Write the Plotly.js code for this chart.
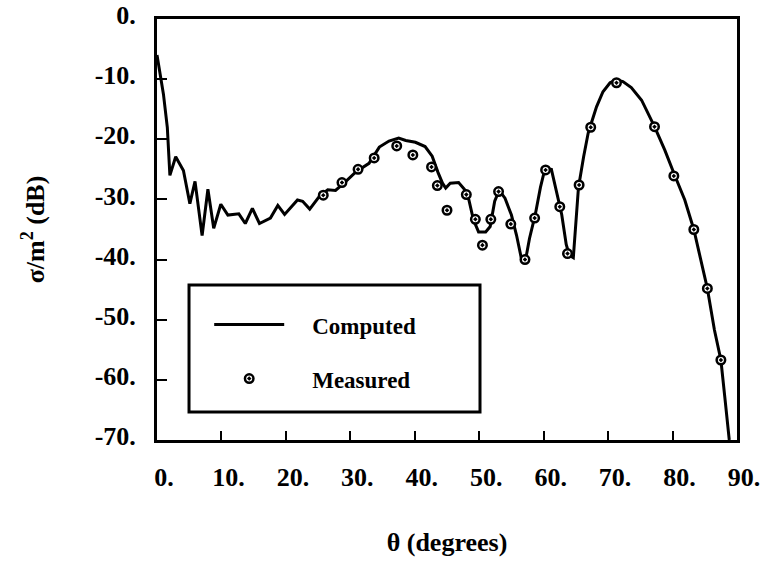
<!DOCTYPE html>
<html><head><meta charset="utf-8">
<script src="https://cdn.plot.ly/plotly-3.0.1.min.js"></script>
<style>html,body{margin:0;padding:0;background:#fff}</style>
</head><body><div id="chart" style="width:769px;height:568px"></div>
<script>
// Computed RCS curve (theta in degrees, sigma/m^2 in dB)
const computedTheta = [0.0, 1.0, 1.6, 2.0, 2.9, 4.1, 5.1, 5.9, 7.0, 7.9, 8.8, 9.9, 11.0, 12.7, 13.7, 14.8, 15.9, 17.6, 18.75, 19.8, 21.8, 22.6, 23.7, 25.2, 26.5, 27.7, 29.1, 30.9, 32.9, 34.5, 36.0, 37.5, 38.6, 40.1, 41.6, 42.7, 43.6, 44.3, 44.8, 45.5, 46.8, 47.7, 48.4, 49.1, 49.9, 51.0, 51.7, 52.4, 53.1, 54.0, 55.0, 55.8, 56.5, 57.2, 57.8, 58.7, 59.5, 60.2, 61.2, 62.0, 62.8, 63.5, 64.0, 64.6, 65.0, 65.4, 66.2, 66.9, 67.4, 68.2, 69.2, 70.3, 71.3, 72.3, 73.6, 75.2, 77.2, 78.8, 80.3, 81.9, 83.3, 84.4, 85.4, 86.5, 87.5, 88.1, 88.8];
const computedRCS = [-6.0, -12.5, -18.0, -26.0, -22.9, -25.2, -30.7, -27.0, -36.0, -28.3, -34.8, -30.8, -32.6, -32.4, -34.0, -31.5, -34.0, -33.1, -31.0, -32.5, -30.1, -30.3, -31.6, -29.5, -28.4, -28.5, -27.2, -25.4, -24.0, -21.3, -20.3, -19.8, -20.2, -20.5, -21.2, -22.8, -25.5, -27.3, -28.1, -27.3, -27.2, -28.3, -30.1, -33.4, -35.4, -35.4, -34.5, -30.3, -28.5, -29.8, -32.6, -36.0, -39.6, -40.0, -36.5, -32.5, -28.0, -24.9, -25.0, -28.5, -32.5, -37.5, -39.3, -39.7, -34.0, -28.0, -22.9, -19.0, -17.3, -14.6, -12.1, -10.6, -10.1, -10.4, -11.4, -13.5, -17.9, -21.8, -25.9, -30.1, -35.0, -40.1, -44.8, -51.7, -56.7, -62.8, -70.0];
// Measured RCS points
const measuredTheta = [25.8, 28.7, 31.2, 33.7, 37.2, 39.7, 42.6, 43.5, 45.0, 48.0, 49.4, 50.5, 51.8, 53.0, 54.9, 57.1, 58.6, 60.3, 62.5, 63.7, 65.5, 67.3, 71.3, 77.2, 80.2, 83.3, 85.4, 87.5];
const measuredRCS = [-29.3, -27.2, -25.0, -23.1, -21.1, -22.6, -24.6, -27.7, -31.8, -29.2, -33.3, -37.6, -33.3, -28.7, -34.1, -40.0, -33.1, -25.1, -31.2, -39.0, -27.6, -18.0, -10.6, -17.9, -26.1, -35.0, -44.8, -56.7];
// Tick labels
const xTickVals = [0, 10, 20, 30, 40, 50, 60, 70, 80, 90];
const xTickText = ["0.", "10.", "20.", "30.", "40.", "50.", "60.", "70.", "80.", "90."];
const yTickVals = [0, -10, -20, -30, -40, -50, -60, -70];
const yTickText = ["0.", "-10.", "-20.", "-30.", "-40.", "-50.", "-60.", "-70."];
const seriesNames = ["Computed", "Measured"];

const font = {family: "Liberation Serif", size: 26, color: "#000", weight: "bold"};
const pad = "\u00a0\u00a0\u00a0\u00a0";

const traces = [
  {x: computedTheta, y: computedRCS, type: "scatter", mode: "lines", name: pad + seriesNames[0],
   legendgroup: "a", line: {color: "#000", width: 3}},
  {x: measuredTheta, y: measuredRCS, type: "scatter", mode: "markers", name: pad + seriesNames[1],
   legendgroup: "b",
   marker: {symbol: "circle-dot", size: 8.5, color: "#fff", line: {color: "#000", width: 2.5}}}
];

const layout = {
  width: 769, height: 568,
  margin: {l: 157, r: 32, t: 19, b: 128},
  paper_bgcolor: "#fff", plot_bgcolor: "#fff",
  font: font,
  showlegend: true,
  legend: {
    x: 0.09, y: 0.325, xanchor: "left", yanchor: "top",
    bgcolor: "rgba(0,0,0,0)", borderwidth: 0,
    font: {family: "Liberation Serif", size: 23, color: "#000", weight: "bold"},
    itemwidth: 70, tracegroupgap: 21, traceorder: "grouped"
  },
  xaxis: {
    range: [0, 90], tickmode: "array", tickvals: xTickVals, ticktext: xTickText,
    ticks: "inside", ticklen: 9, tickwidth: 2, tickcolor: "#000",
    showline: true, linewidth: 3, linecolor: "#000", mirror: true,
    showgrid: false, zeroline: false, tickfont: font,
    ticklabelstandoff: 12, ticklabelshift: 7,
    title: {text: "θ (degrees)", font: font, standoff: 42}
  },
  yaxis: {
    range: [-70, 0], tickmode: "array", tickvals: yTickVals, ticktext: yTickText,
    ticks: "inside", ticklen: 10, tickwidth: 2, tickcolor: "#000",
    showline: true, linewidth: 3, linecolor: "#000", mirror: true,
    showgrid: false, zeroline: false, tickfont: font,
    ticklabelstandoff: 13, ticklabelshift: -4,
    title: {text: "σ/m<sup>2</sup> (dB)", font: font, standoff: 43}
  },
  shapes: [
    {type: "rect", xref: "paper", yref: "paper",
     x0: 0.0552, x1: 0.5569, y0: 0.0665, y1: 0.368,
     line: {color: "#000", width: 3}, fillcolor: "rgba(0,0,0,0)", layer: "above"}
  ]
};

Plotly.newPlot("chart", traces, layout, {displayModeBar: false, staticPlot: true});
</script>
</body></html>
